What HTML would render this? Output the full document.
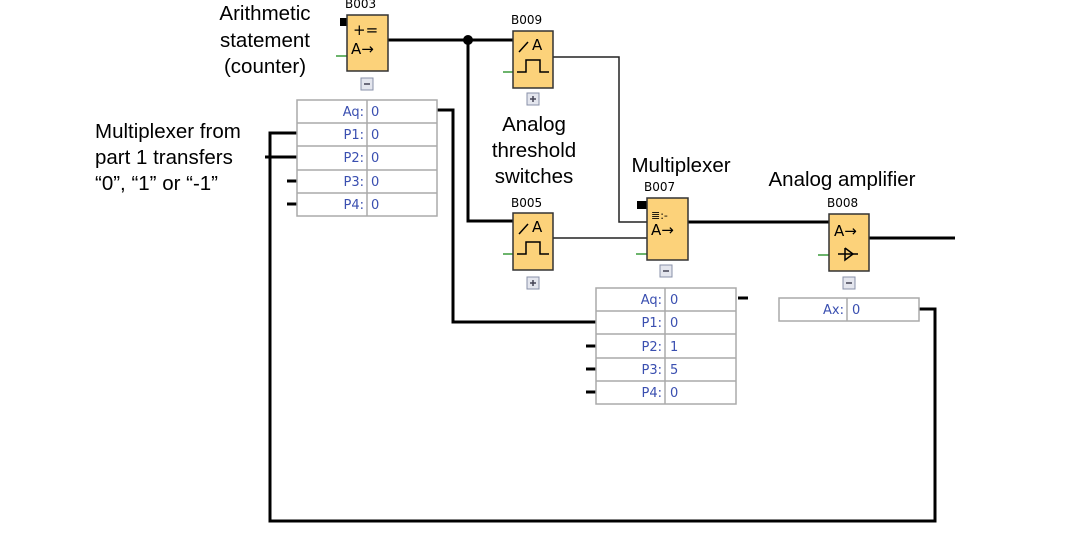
<!DOCTYPE html>
<html><head><meta charset="utf-8"><style>
html,body{margin:0;padding:0;background:#fff;}
svg{display:block;}
.lbl{font-family:"Liberation Sans",sans-serif;font-size:20.5px;fill:#000;}
.bid{font-family:"DejaVu Sans",sans-serif;font-size:12px;fill:#000;}
.tk{font-family:"DejaVu Sans",sans-serif;font-size:13px;fill:#3a4fb0;}
.sym{font-family:"DejaVu Sans",sans-serif;font-size:15px;fill:#000;}
</style></head><body>
<svg width="1086" height="542" viewBox="0 0 1086 542">
<g stroke="#000" stroke-width="3" fill="none">
<polyline points="388,40 513,40"/>
<polyline points="468,40 468,221 513,221"/>
<polyline points="437,110 453,110 453,322 596,322"/>
<polyline points="297,133 270,133 270,521 935,521 935,309 919,309"/>
<polyline points="265,157 297,157"/>
<polyline points="287,181 297,181"/>
<polyline points="287,204 297,204"/>
<polyline points="688,222 829,222"/>
<polyline points="869,238 955,238"/>
<polyline points="738,298 748,298"/>
<polyline points="586,346 596,346"/>
<polyline points="586,369 596,369"/>
<polyline points="586,392 596,392"/>
</g>
<circle cx="468" cy="40" r="5" fill="#000"/>
<g stroke="#222" stroke-width="1.5" fill="none">
<polyline points="553,57 619,57 619,222 647,222"/>
<polyline points="553,238 647,238"/>
</g>
<rect x="340" y="18" width="7" height="8" fill="#000"/>
<rect x="637" y="201" width="10" height="8" fill="#000"/>
<g stroke="#3a9a3a" stroke-width="1.5">
<line x1="336" y1="56" x2="347" y2="56"/>
<line x1="503" y1="72" x2="513" y2="72"/>
<line x1="503" y1="254" x2="513" y2="254"/>
<line x1="636" y1="254" x2="647" y2="254"/>
<line x1="818" y1="255" x2="829" y2="255"/>
</g>
<g fill="#fcd27a" stroke="#333" stroke-width="1.5">
<rect x="347" y="15" width="41" height="56"/>
<rect x="513" y="31" width="40" height="57"/>
<rect x="513" y="213" width="40" height="57"/>
<rect x="647" y="198" width="41" height="62"/>
<rect x="829" y="214" width="40" height="57"/>
</g>
<text class="sym" x="353" y="35">+=</text>
<text class="sym" x="351" y="54">A→</text>
<g stroke="#000" stroke-width="1.5" fill="none">
<line x1="519" y1="52" x2="528" y2="42"/>
<polyline points="517,72 526,72 526,60 540,60 540,72 549,72"/>
<line x1="519" y1="234" x2="528" y2="224"/>
<polyline points="517,254 526,254 526,242 540,242 540,254 549,254"/>
<line x1="838" y1="254" x2="858" y2="254"/>
<polyline points="845,248 853,254 845,260 845,248"/>
</g>
<text class="sym" x="532" y="50">A</text>
<text class="sym" x="532" y="232">A</text>
<text class="sym" x="651" y="219" style="font-size:11px">≣:-</text>
<text class="sym" x="651" y="235">A→</text>
<text class="sym" x="834" y="236">A→</text>
<text class="bid" x="345" y="8">B003</text>
<text class="bid" x="511" y="24">B009</text>
<text class="bid" x="511" y="207">B005</text>
<text class="bid" x="644" y="191">B007</text>
<text class="bid" x="827" y="207">B008</text>
<g fill="#e4e6ee" stroke="#8890a8" stroke-width="1">
<rect x="361" y="78" width="12" height="12"/>
<rect x="527" y="93" width="12" height="12"/>
<rect x="527" y="277" width="12" height="12"/>
<rect x="660" y="265" width="12" height="12"/>
<rect x="843" y="277" width="12" height="12"/>
</g>
<g stroke="#445" stroke-width="1.5">
<line x1="364" y1="84" x2="370" y2="84"/>
<line x1="530" y1="99" x2="536" y2="99"/><line x1="533" y1="96" x2="533" y2="102"/>
<line x1="530" y1="283" x2="536" y2="283"/><line x1="533" y1="280" x2="533" y2="286"/>
<line x1="663" y1="271" x2="669" y2="271"/>
<line x1="846" y1="283" x2="852" y2="283"/>
</g>
<g fill="#fff" stroke="#aaa" stroke-width="1.5">
<rect x="297" y="100" width="140" height="116"/>
<rect x="596" y="288" width="140" height="116"/>
<rect x="779" y="298" width="140" height="23"/>
</g>
<g stroke="#aaa" stroke-width="1.5">
<line x1="367" y1="100" x2="367" y2="216"/>
<line x1="297" y1="123" x2="437" y2="123"/><line x1="297" y1="146" x2="437" y2="146"/>
<line x1="297" y1="170" x2="437" y2="170"/><line x1="297" y1="193" x2="437" y2="193"/>
<line x1="665" y1="288" x2="665" y2="404"/>
<line x1="596" y1="311" x2="736" y2="311"/><line x1="596" y1="334" x2="736" y2="334"/>
<line x1="596" y1="358" x2="736" y2="358"/><line x1="596" y1="381" x2="736" y2="381"/>
<line x1="847" y1="298" x2="847" y2="321"/>
</g>
<g class="tk" text-anchor="end">
<text x="364" y="116" class="tk">Aq:</text><text x="364" y="139" class="tk">P1:</text>
<text x="364" y="162" class="tk">P2:</text><text x="364" y="186" class="tk">P3:</text>
<text x="364" y="209" class="tk">P4:</text>
<text x="662" y="304" class="tk">Aq:</text><text x="662" y="327" class="tk">P1:</text>
<text x="662" y="351" class="tk">P2:</text><text x="662" y="374" class="tk">P3:</text>
<text x="662" y="397" class="tk">P4:</text>
<text x="844" y="314" class="tk">Ax:</text>
</g>
<g class="tk">
<text x="371" y="116">0</text><text x="371" y="139">0</text><text x="371" y="162">0</text>
<text x="371" y="186">0</text><text x="371" y="209">0</text>
<text x="670" y="304">0</text><text x="670" y="327">0</text><text x="670" y="351">1</text>
<text x="670" y="374">5</text><text x="670" y="397">0</text>
<text x="852" y="314">0</text>
</g>
<g class="lbl" text-anchor="middle">
<text x="265" y="20">Arithmetic</text>
<text x="265" y="47">statement</text>
<text x="265" y="73">(counter)</text>
<text x="534" y="131">Analog</text>
<text x="534" y="157">threshold</text>
<text x="534" y="183">switches</text>
<text x="681" y="172">Multiplexer</text>
<text x="842" y="186">Analog amplifier</text>
</g>
<g class="lbl">
<text x="95" y="138">Multiplexer from</text>
<text x="95" y="164">part 1 transfers</text>
<text x="95" y="190">“0”, “1” or “-1”</text>
</g>
</svg>
</body></html>
